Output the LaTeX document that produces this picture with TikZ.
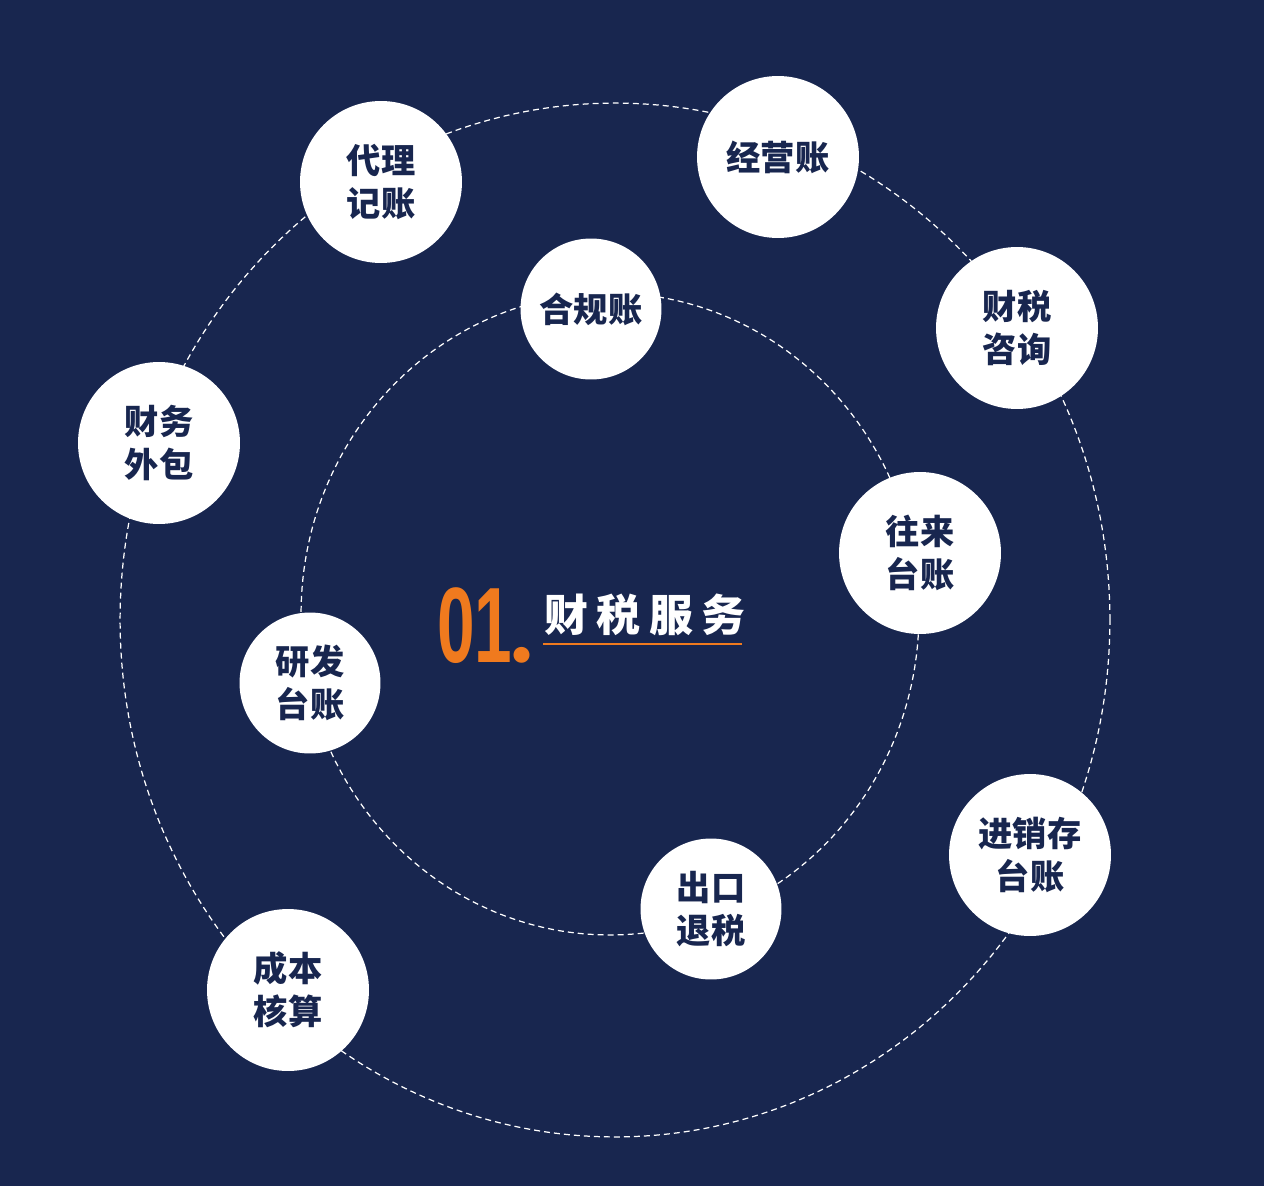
\documentclass[tikz,border=0pt]{standalone}
\usepackage{fontspec}
\newfontfamily\cjk{Noto Sans CJK SC}
\newfontfamily\numfont{Liberation Sans}
\newfontfamily\dotfont{Lato}
\definecolor{navy}{HTML}{18264F}
\definecolor{accent}{HTML}{F07A1E}
\tikzset{
  ring/.style={draw=white, line width=0.7pt, dash pattern=on 3.4pt off 2.3pt},
  bigball/.style={circle, fill=white, minimum size=3.24cm, inner sep=0pt, align=center,
    text=navy, font=\cjk\bfseries\fontsize{19.5}{24.5}\selectfont},
  smallball/.style={bigball, minimum size=2.82cm},
}
\begin{document}
\begin{tikzpicture}[x=0.02cm, y=-0.02cm]
\fill[navy] (0,0) rectangle (1264,1186);
\useasboundingbox (0,0) rectangle (1264,1186);
\draw[ring] (615,620) ellipse [x radius=9.9cm, y radius=10.34cm];
\draw[ring] (610,614) ellipse [x radius=6.18cm, y radius=6.42cm];
\node[bigball] (dlj) at (381,182) {代理\\记账};
\node[bigball] (jyz) at (778,157) {经营账};
\node[bigball] (cszx) at (1017,328) {财税\\咨询};
\node[smallball] (hgz) at (591,309) {合规账};
\node[bigball] (cwwb) at (159,443) {财务\\外包};
\node[bigball] (wltz) at (920,553) {往来\\台账};
\node[smallball] (yftz) at (310,683) {研发\\台账};
\node[bigball] (jxc) at (1030,855) {进销存\\台账};
\node[smallball] (ckts) at (711,909) {出口\\退税};
\node[bigball] (cbhs) at (288,990) {成本\\核算};
\node[anchor=base west, inner sep=0pt, text=accent] (num) at (437,662)
  {\scalebox{0.63}[1]{\numfont\bfseries\fontsize{61}{61}\selectfont 01}};
\node[anchor=base, inner sep=0pt, text=accent] (dot) at (522.5,662)
  {\dotfont\bfseries\fontsize{60}{60}\selectfont .};
\node[anchor=base west, inner sep=0pt, text=white,
  font=\cjk\bfseries\fontsize{25}{30}\selectfont] (title) at (544,631)
  {财\hspace{0.17cm}税\hspace{0.17cm}服\hspace{0.17cm}务};
\coordinate (ul1) at (543,644);
\coordinate (ul2) at (742,644);
\draw[accent, line width=0.8pt] (ul1) -- (ul2);
\end{tikzpicture}
\end{document}
